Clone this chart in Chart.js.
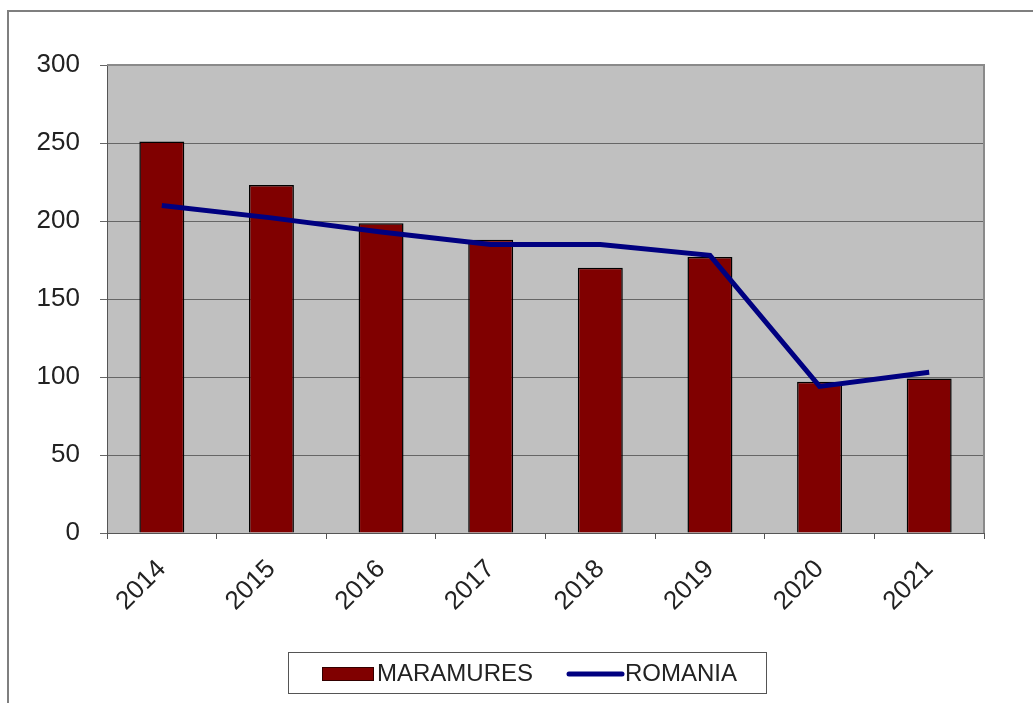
<!DOCTYPE html>
<html>
<head>
<meta charset="utf-8">
<script src="https://cdn.jsdelivr.net/npm/chart.js@4/dist/chart.umd.min.js"></script>
<style>
  html, body { margin: 0; padding: 0; background: #fff; }
  #wrap { width: 1033px; height: 703px; position: relative; }
</style>
</head>
<body>
<div id="wrap"><canvas id="chart"></canvas></div>
<script>
// valori
const years = ['2014', '2015', '2016', '2017', '2018', '2019', '2020', '2021'];
const maramures = [251, 223, 198.5, 188, 170, 177, 97, 99];
const romania = [210, 202, 193, 185, 185, 178, 94, 103];
const yTicks = [0, 50, 100, 150, 200, 250, 300];

const FONT = '"Liberation Sans", Arial, sans-serif';

// fundal gri pentru zona de desen + chenar exterior
const plotBg = {
  id: 'plotBg',
  beforeDraw(chart) {
    const ctx = chart.ctx, a = chart.chartArea;
    ctx.save();
    ctx.fillStyle = '#c0c0c0';
    ctx.fillRect(a.left, a.top, a.right - a.left, a.bottom - a.top);
    ctx.strokeStyle = '#7f7f7f';
    ctx.lineWidth = 2;
    ctx.strokeRect(8, 11, 1100, 800);
    ctx.restore();
  },
  beforeDatasetsDraw(chart) {
    const ctx = chart.ctx, a = chart.chartArea;
    ctx.save();
    ctx.strokeStyle = '#8a8a8a';
    ctx.lineWidth = 2;
    ctx.beginPath();
    ctx.moveTo(a.left, a.top);
    ctx.lineTo(a.right, a.top);
    ctx.lineTo(a.right, a.bottom);
    ctx.stroke();
    ctx.restore();
  }
};

// legenda cu chenar, desenata manual
const boxLegend = {
  id: 'boxLegend',
  afterDraw(chart) {
    const ctx = chart.ctx;
    const ds = chart.data.datasets;
    const bar = ds.find(d => d.type === 'bar');
    const line = ds.find(d => d.type === 'line');
    ctx.save();
    ctx.strokeStyle = '#555';
    ctx.lineWidth = 1;
    ctx.strokeRect(288.5, 652.5, 478, 41);
    const cy = 674;
    ctx.fillStyle = bar.backgroundColor;
    ctx.fillRect(322, cy - 7, 52, 14);
    ctx.strokeStyle = '#300';
    ctx.strokeRect(322.5, cy - 6.5, 51, 13);
    ctx.strokeStyle = line.borderColor;
    ctx.lineWidth = 5;
    ctx.lineCap = 'round';
    ctx.beginPath();
    ctx.moveTo(569, cy);
    ctx.lineTo(622, cy);
    ctx.stroke();
    ctx.fillStyle = '#222';
    ctx.font = '24px ' + FONT;
    ctx.textBaseline = 'middle';
    ctx.fillText(bar.label, 377, cy);
    ctx.fillText(line.label, 625, cy);
    ctx.restore();
  }
};

new Chart(document.getElementById('chart'), {
  data: {
    labels: years,
    datasets: [
      {
        type: 'line',
        label: 'ROMANIA',
        data: romania,
        borderColor: '#000080',
        borderWidth: 5,
        pointRadius: 0,
        tension: 0,
        order: 0
      },
      {
        type: 'bar',
        label: 'MARAMURES',
        data: maramures,
        backgroundColor: '#800000',
        borderColor: '#000',
        borderWidth: 1.5,
        barPercentage: 0.41,
        categoryPercentage: 1,
        order: 1
      }
    ]
  },
  options: {
    responsive: true,
    maintainAspectRatio: false,
    animation: false,
    layout: { padding: { top: 65, right: 49, bottom: 0, left: 0 } },
    plugins: {
      legend: { display: false },
      tooltip: { enabled: false }
    },
    scales: {
      x: {
        offset: true,
        grid: { offset: true, drawOnChartArea: false, drawTicks: true, tickLength: 6, color: '#555' },
        border: { color: '#555', width: 1 },
        ticks: {
          maxRotation: 45, minRotation: 45,
          padding: 15,
          color: '#222',
          font: { family: FONT, size: 26 }
        },
        afterFit(s) { s.height = 170; }
      },
      y: {
        min: 0, max: 300,
        afterBuildTicks(s) { s.ticks = yTicks.map(v => ({ value: v })); },
        grid: { color: '#666', lineWidth: 1, tickLength: 7 },
        border: { color: '#555', width: 1 },
        ticks: {
          padding: 20,
          color: '#222',
          font: { family: FONT, size: 26 }
        },
        afterFit(s) { s.width = 107; }
      }
    }
  },
  plugins: [plotBg, boxLegend]
});
</script>
</body>
</html>
